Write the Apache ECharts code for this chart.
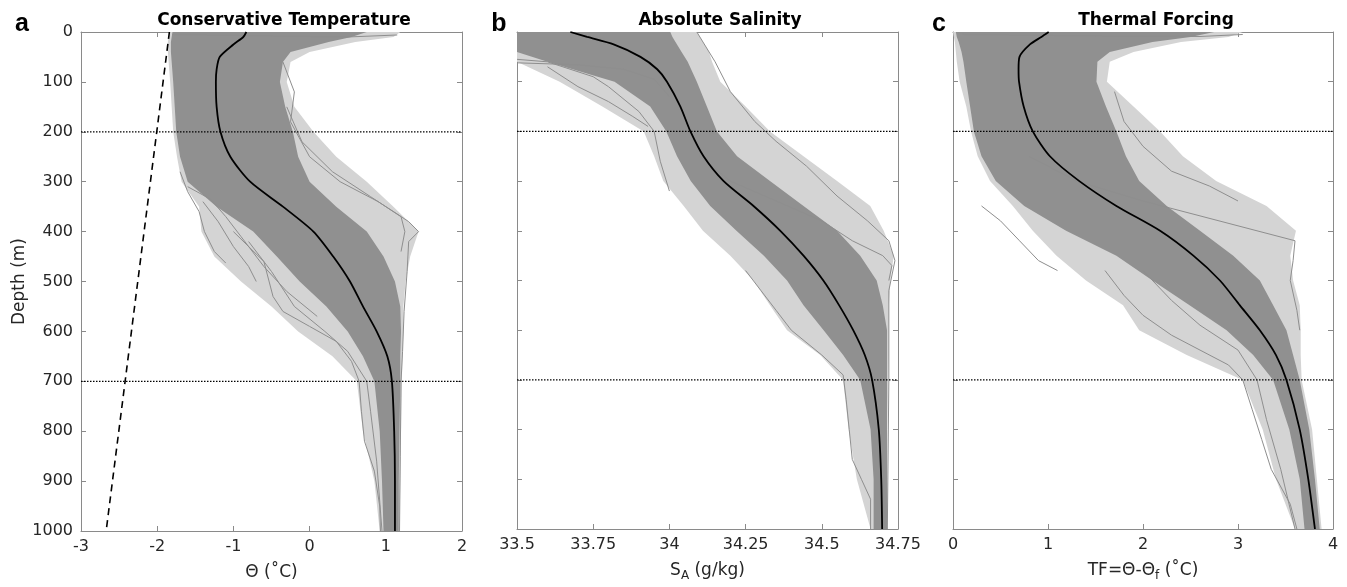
<!DOCTYPE html>
<html>
<head>
<meta charset="utf-8">
<script src="https://cdn.jsdelivr.net/npm/echarts@6/dist/echarts.min.js"></script>
<style>html,body{margin:0;padding:0;background:#fff;}#c{width:1347px;height:587px;}</style>
</head>
<body>
<div id="c"></div>
<script>
// ---------- data ----------
const depthTicks = [0,100,200,300,400,500,600,700,800,900,1000];
const refDepths = [200, 700];
const envDepth = [0,10,20,40,60,100,150,200,250,300,350,400,450,500,550,600,650,700,800,900,1000];
const meanDepth = [0,10,25,50,75,100,150,200,250,300,350,400,450,500,550,600,650,700,800,900,1000];

// panel a: conservative temperature
const aOuterLeft  = [-1.84,-1.85,-1.86,-1.86,-1.85,-1.83,-1.81,-1.79,-1.74,-1.68,-1.45,-1.42,-1.25,-0.9,-0.5,-0.15,0.3,0.62,0.7,0.85,0.92];
const aCoreLeft   = [-1.8,-1.81,-1.82,-1.82,-1.81,-1.79,-1.77,-1.75,-1.7,-1.6,-1.22,-0.74,-0.43,-0.13,0.22,0.5,0.7,0.85,0.92,0.95,0.97];
const aCoreRight  = [0.75,0.55,0.25,-0.25,-0.35,-0.39,-0.32,-0.22,-0.15,0.0,0.35,0.75,0.97,1.12,1.19,1.2,1.19,1.19,1.18,1.17,1.17];
const aOuterRight = [1.19,1.1,0.6,0.0,-0.25,-0.3,-0.2,0.05,0.35,0.75,1.1,1.43,1.32,1.26,1.23,1.23,1.22,1.21,1.2,1.19,1.18];
const aMean = [-0.83,-0.87,-1.0,-1.18,-1.22,-1.23,-1.22,-1.17,-1.04,-0.78,-0.35,0.05,0.31,0.53,0.70,0.88,1.02,1.08,1.11,1.12,1.12];
const aFreeze = [[-1.84,0],[-2.67,1000]];
const aProfiles = [
  [[-1.7,280],[-1.6,320],[-1.45,360],[-1.38,400],[-1.25,440],[-1.1,463]],
  [[-0.3,150],[-0.1,220],[0.3,280],[0.8,330],[1.3,380],[1.43,400],[1.3,420],[1.28,480],[1.24,560],[1.22,640],[1.2,700],[1.19,850],[1.18,1000]],
  [[-1.0,400],[-0.6,460],[-0.48,530],[-0.35,560],[0.0,590],[0.35,620],[0.55,660],[0.65,700],[0.68,760],[0.72,820],[0.85,880],[0.92,950],[0.93,1000]],
  [[-0.8,420],[-0.5,480],[-0.2,550],[0.2,600],[0.5,640],[0.75,700],[0.8,760],[0.88,860],[0.95,1000]],
  [[-1.4,340],[-1.2,380],[-1.0,430],[-0.8,470],[-0.7,500]],
  [[-0.35,60],[-0.2,120],[-0.25,180],[0.0,250],[0.4,300],[0.9,340],[1.2,370],[1.25,400],[1.2,440]],
  [[-1.8,5],[-0.5,8],[0.5,10],[1.15,6]],
  [[-1.6,310],[-1.3,335],[-1.1,370],[-0.9,410],[-0.6,470],[-0.3,520],[0.1,570]]
];

// panel b: absolute salinity
const bOuterLeft  = [33.5,33.5,33.5,33.5,33.5,33.64,33.78,33.916,33.95,33.98,34.047,34.11,34.2,34.276,34.33,34.386,34.495,34.57,34.588,34.615,34.66];
const bCoreLeft   = [33.5,33.5,33.5,33.5,33.6,33.82,33.937,33.99,34.025,34.07,34.134,34.22,34.31,34.386,34.44,34.506,34.57,34.626,34.66,34.67,34.67];
const bCoreRight  = [34.003,34.01,34.02,34.04,34.06,34.09,34.123,34.156,34.222,34.33,34.44,34.55,34.626,34.68,34.70,34.714,34.714,34.714,34.714,34.714,34.714];
const bOuterRight = [34.09,34.10,34.11,34.13,34.14,34.167,34.25,34.33,34.44,34.55,34.659,34.703,34.736,34.725,34.72,34.72,34.72,34.718,34.715,34.715,34.715];
const bMean = [33.675,33.73,33.817,33.905,33.96,33.992,34.036,34.069,34.112,34.178,34.276,34.364,34.44,34.505,34.557,34.603,34.641,34.665,34.687,34.695,34.698];
const bProfiles = [
  [[34.09,0],[34.15,60],[34.2,120],[34.28,180],[34.35,220],[34.45,270],[34.55,330],[34.65,380],[34.72,420],[34.74,460],[34.72,520],[34.72,700],[34.715,1000]],
  [[34.25,480],[34.3,520],[34.35,560],[34.4,600],[34.5,650],[34.57,690],[34.58,740],[34.59,800],[34.6,860],[34.63,900],[34.66,940],[34.66,1000]],
  [[33.5,55],[33.6,60],[33.75,90],[33.8,110],[33.9,160],[33.95,200],[33.97,260],[34.0,320]],
  [[33.6,70],[33.7,110],[33.8,140],[33.88,170],[33.93,190]],
  [[34.1,250],[34.2,300],[34.35,340],[34.5,380],[34.6,420],[34.7,450],[34.73,470],[34.72,500]],
  [[33.5,62],[33.7,66],[33.85,75],[33.95,95],[34.0,130]]
];

// panel c: thermal forcing
const cOuterLeft  = [0.0,0.01,0.02,0.03,0.04,0.07,0.14,0.19,0.26,0.39,0.63,0.84,1.09,1.40,1.79,1.96,2.46,3.05,3.26,3.40,3.60];
const cCoreLeft   = [0.03,0.04,0.06,0.09,0.11,0.14,0.18,0.22,0.3,0.45,0.75,1.19,1.72,2.1,2.49,2.88,3.16,3.37,3.54,3.65,3.70];
const cCoreRight  = [2.75,2.5,2.1,1.65,1.52,1.51,1.61,1.72,1.82,1.96,2.25,2.6,2.95,3.23,3.37,3.51,3.58,3.65,3.75,3.81,3.86];
const cOuterRight = [3.05,2.9,2.4,1.9,1.65,1.62,1.9,2.18,2.42,2.77,3.30,3.61,3.55,3.58,3.65,3.66,3.66,3.67,3.78,3.83,3.88];
const cMean = [1.007,0.93,0.81,0.70,0.69,0.695,0.744,0.84,1.02,1.33,1.72,2.18,2.53,2.81,3.02,3.23,3.40,3.51,3.65,3.74,3.81];
const cProfiles = [
  [[0.8,250],[1.3,300],[2.0,340],[2.6,370],[3.2,400],[3.6,420],[3.58,460],[3.55,500],[3.62,560],[3.65,600]],
  [[0.3,350],[0.5,380],[0.7,420],[0.9,460],[1.1,480]],
  [[1.6,480],[1.8,530],[2.0,570],[2.3,610],[2.6,640],[2.9,670],[3.05,700],[3.15,760],[3.25,820],[3.35,880],[3.55,950],[3.62,1000]],
  [[2.0,480],[2.3,540],[2.6,590],[3.0,640],[3.2,700],[3.3,780],[3.45,880],[3.6,1000]],
  [[1.7,120],[1.8,180],[2.0,230],[2.3,280],[2.7,310],[3.0,340]],
  [[0.1,5],[1.5,8],[2.6,9],[3.05,5]]
];

const panelTitles = ['Conservative Temperature','Absolute Salinity','Thermal Forcing'];
const panelLetters = ['a','b','c'];
const xRanges = [[-3,2,1],[33.5,34.75,0.25],[0,4,1]];

// ---------- build ----------
const FONT = '"DejaVu Sans", sans-serif';
const AX = '#8a8a8a';
const TXT = '#262626';
const gridPos = [{left:81,width:381},{left:517,width:381},{left:953,width:380}];
const titleX = [284, 720, 1156];
const letterX = [22, 499, 939];

const panels = [
  {outerL:aOuterLeft, outerR:aOuterRight, coreL:aCoreLeft, coreR:aCoreRight, mean:aMean, prof:aProfiles},
  {outerL:bOuterLeft, outerR:bOuterRight, coreL:bCoreLeft, coreR:bCoreRight, mean:bMean, prof:bProfiles},
  {outerL:cOuterLeft, outerR:cOuterRight, coreL:cCoreLeft, coreR:cCoreRight, mean:cMean, prof:cProfiles}
];

function polyPts(L, R) {
  const pts = [];
  for (let i = 0; i < envDepth.length; i++) pts.push([L[i], envDepth[i]]);
  for (let i = envDepth.length - 1; i >= 0; i--) pts.push([R[i], envDepth[i]]);
  return pts;
}
function polySeries(pts, fill, idx) {
  return {
    type:'custom', xAxisIndex:2*idx, yAxisIndex:2*idx, silent:true, clip:true,
    data:[[pts[0][0], pts[0][1]]],
    renderItem:function(params, api){
      return {type:'polygon', shape:{points:pts.map(p=>api.coord(p))}, style:{fill:fill}};
    }
  };
}

const xNames = [
  '{n|Θ (˚C)}',
  '{n|S}{s|A}{n| (g/kg)}',
  '{n|TF=Θ-Θ}{s|f}{n| (˚C)}'
];

const grids = [], xAxes = [], yAxes = [], series = [];
gridPos.forEach((g, i) => {
  grids.push({left:g.left, width:g.width, top:32, height:499});
  const r = xRanges[i];
  xAxes.push({
    type:'value', gridIndex:i, min:r[0], max:r[1], interval:r[2], position:'bottom',
    axisLine:{onZero:false, lineStyle:{color:AX, width:1}}, axisTick:{inside:true, length:5, lineStyle:{color:AX}},
    splitLine:{show:false},
    axisLabel:{color:TXT, fontSize:16, fontFamily:FONT, margin:8, showMinLabel:true, showMaxLabel:true,
      formatter:function(v){return String(v);}},
    name:xNames[i], nameLocation:'middle', nameGap:33,
    nameTextStyle:{rich:{
      n:{fontSize:17, fontFamily:FONT, color:TXT, lineHeight:18, verticalAlign:'top'},
      s:{fontSize:12, fontFamily:FONT, color:TXT, lineHeight:20, verticalAlign:'bottom'}
    }}
  });
  xAxes.push({
    type:'value', gridIndex:i, min:r[0], max:r[1], interval:r[2], position:'top',
    axisLine:{onZero:false, lineStyle:{color:AX, width:1}}, axisTick:{inside:true, length:5, lineStyle:{color:AX}},
    axisLabel:{show:false}, splitLine:{show:false}
  });
  yAxes.push({
    type:'value', gridIndex:i, min:0, max:1000, interval:100, inverse:true, position:'left',
    axisLine:{show:true, onZero:false, lineStyle:{color:AX, width:1}}, axisTick:{show:true, inside:true, length:5, lineStyle:{color:AX}},
    splitLine:{show:false},
    axisLabel:{show:i===0, color:TXT, fontSize:16, fontFamily:FONT, margin:8, showMinLabel:true, showMaxLabel:true,
      formatter:function(v){return String(v);}},
    name: i===0 ? 'Depth (m)' : '', nameLocation:'middle', nameGap:52,
    nameTextStyle:{fontSize:17, fontFamily:FONT, color:TXT}
  });
  yAxes.push({
    type:'value', gridIndex:i, min:0, max:1000, interval:100, inverse:true, position:'right',
    axisLine:{show:true, onZero:false, lineStyle:{color:AX, width:1}}, axisTick:{show:true, inside:true, length:5, lineStyle:{color:AX}},
    axisLabel:{show:false}, splitLine:{show:false}
  });

  const p = panels[i];
  series.push(polySeries(polyPts(p.outerL, p.outerR), '#d4d4d4', i));
  series.push(polySeries(polyPts(p.coreL, p.coreR), '#909090', i));
  p.prof.forEach(pr => {
    series.push({type:'line', xAxisIndex:2*i, yAxisIndex:2*i, data:pr, showSymbol:false, silent:true,
      lineStyle:{color:'#8e8e8e', width:1}, z:3});
  });
  series.push({type:'line', xAxisIndex:2*i, yAxisIndex:2*i, smooth:0.25,
    data:meanDepth.map((d,k)=>[p.mean[k], d]), showSymbol:false, silent:true,
    lineStyle:{color:'#000', width:1.8}, z:6});
  refDepths.forEach(d => {
    series.push({type:'line', xAxisIndex:2*i, yAxisIndex:2*i, data:[[r[0],d],[r[1],d]],
      showSymbol:false, silent:true, lineStyle:{color:'#000', width:1.2, type:[1.5,1.5]}, z:7});
  });
});
series.push({type:'line', xAxisIndex:0, yAxisIndex:0, data:aFreeze, showSymbol:false, silent:true,
  lineStyle:{color:'#000', width:1.6, type:[7,5]}, z:7});

const graphics = [];
panelTitles.forEach((t, i) => {
  graphics.push({type:'text', x:titleX[i], y:21, style:{text:t, font:'bold 17px "DejaVu Sans"', fill:'#000', textAlign:'center', textVerticalAlign:'middle'}});
  graphics.push({type:'text', x:letterX[i], y:24, style:{text:panelLetters[i], font:'bold 25px "Liberation Sans"', fill:'#000', textAlign:'center', textVerticalAlign:'middle'}});
});

const chart = echarts.init(document.getElementById('c'), null, {renderer:'canvas'});
chart.setOption({
  animation:false,
  backgroundColor:'#fff',
  grid:grids, xAxis:xAxes, yAxis:yAxes, series:series, graphic:graphics
});
</script>
</body>
</html>
